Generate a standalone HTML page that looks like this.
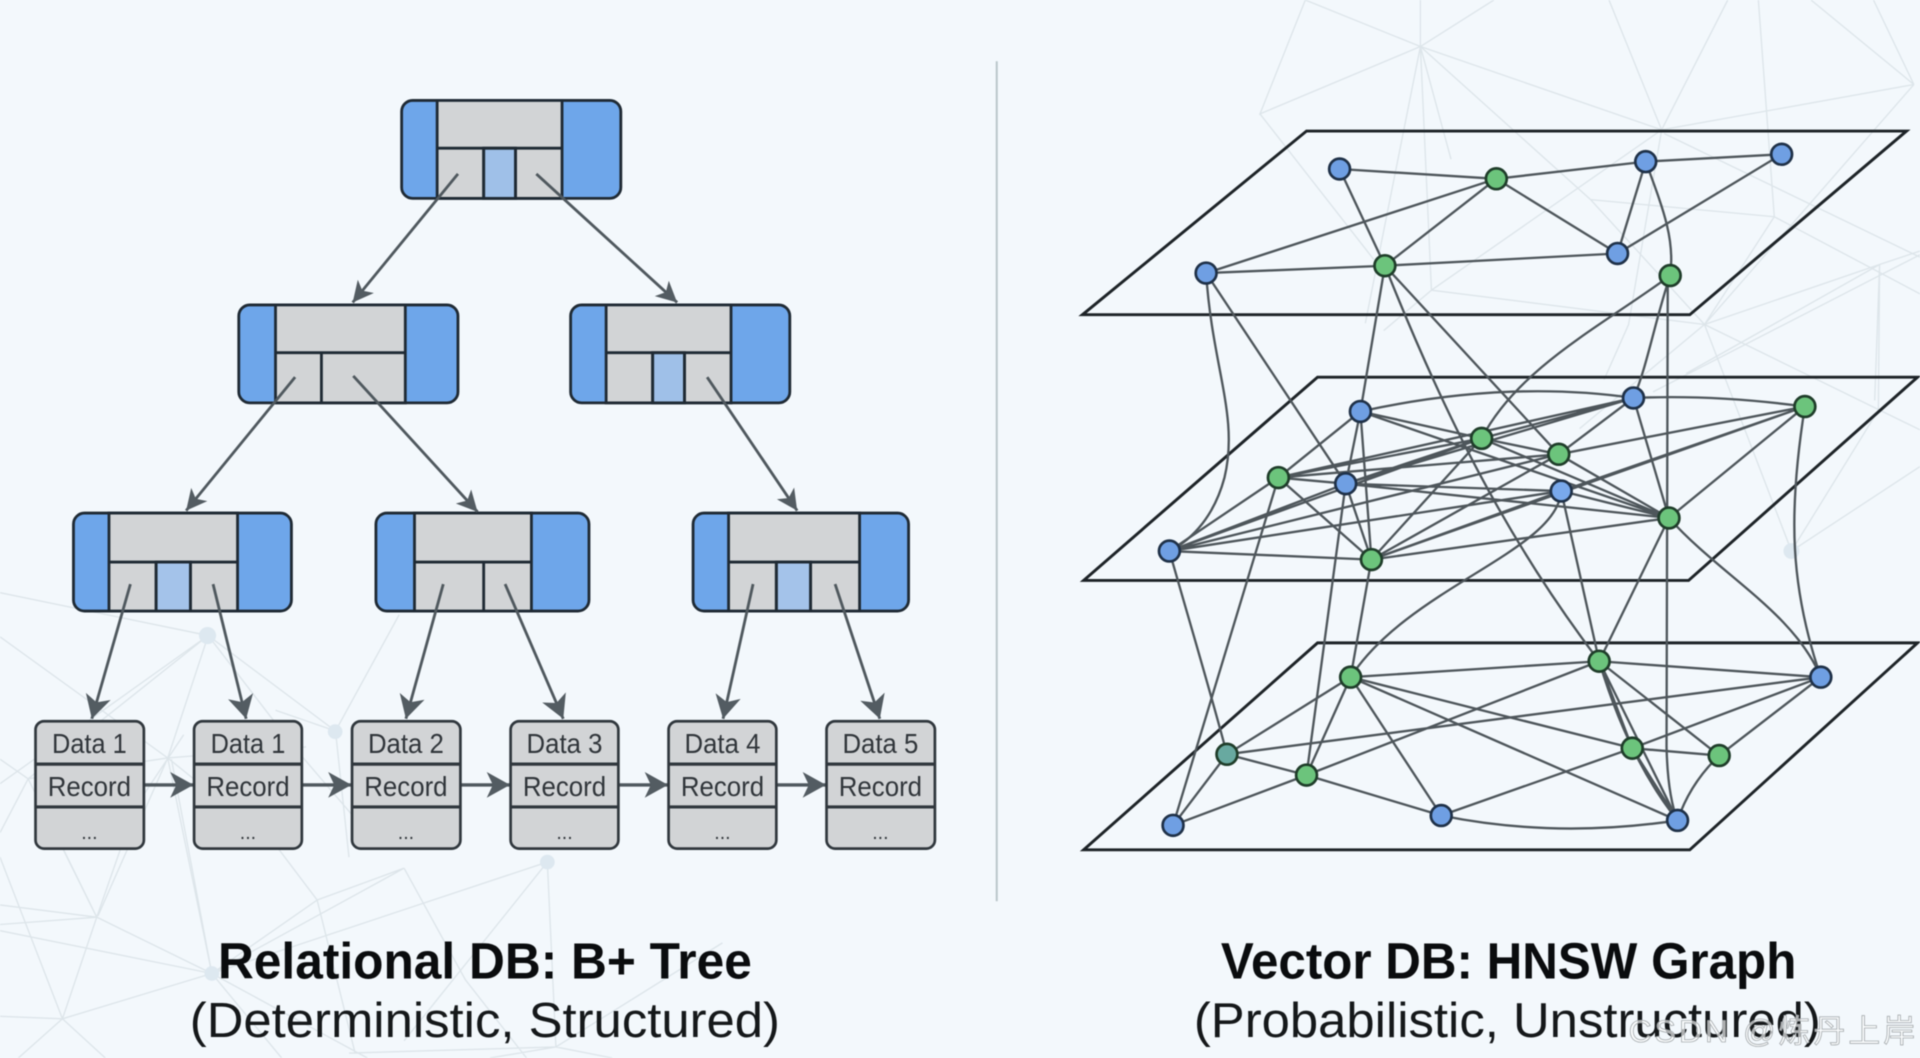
<!DOCTYPE html>
<html><head><meta charset="utf-8"><title>B+ Tree vs HNSW Graph</title>
<style>html,body{margin:0;padding:0;background:#f3f8fc}svg{display:block;filter:blur(.55px)}text{font-family:"Liberation Sans","Noto Sans CJK SC",sans-serif}</style>
</head><body>
<svg width="1920" height="1058" viewBox="0 0 1568 864" xmlns="http://www.w3.org/2000/svg">
<defs>
<marker id="h1" markerUnits="userSpaceOnUse" markerWidth="18" markerHeight="18" refX="17" refY="9" orient="auto"><path d="M17 9L0 0.5L4.5 9L0 17.5Z" fill="#535c62"/></marker>
<marker id="h2" markerUnits="userSpaceOnUse" markerWidth="20" markerHeight="22" refX="19" refY="11" orient="auto"><path d="M19 11L0 0.5L5 11L0 21.5Z" fill="#535c62"/></marker>
</defs>
<rect width="1568" height="864" fill="#f3f8fc"/>

<!-- background mesh -->
<g fill="none" stroke="#dde5ea" stroke-width="1.1">
<path d="M1066 0L1160 38L1357 106M1160 38L1220 0M1160 38L1029 93L1066 0M1160 38L1160 0M1160 38L1169 237M1160 38L1299 163L1392 265M1029 93L1122 212M1160 38L1115 264M1357 106L1314 0M1357 106L1411 0M1357 106L1563 69M1357 106L1169 237M1563 69L1479 0M1436 0L1449 177L1392 265M1563 69L1530 0M1563 69L1392 265M1359 109L1568 210M1169 237L1392 265M1392 265L1535 216L1568 205M1535 216L1531 327M1535 216L1377 305M1568 208L1350 320M1392 265L1463 450M1392 265L1568 351M1392 265L1290 350M1463 450L1534 335L1535 216M1463 450L1568 381M1299 163L1449 177L1568 240M1357 106L1330 265L1310 310M1169 237L1130 270M1160 38L1185 130"/>
<path d="M0 484L170 519L0 640M170 519L23 636M170 519L137 619L80 748M170 519L274 597L326 502M170 519L240 610L300 680M274 597L225 580M274 597L285 700M23 636L137 619L250 610M23 636L79 749M23 636L0 680M23 636L0 620M0 520L137 619L225 690M137 619L173 795M79 749L0 739M79 749L0 755M79 749L173 795L51 832L79 749M79 749L52 694M79 749L110 660L150 600M173 795L140 620M173 795L330 709L259 735M173 795L447 704M173 795L0 760M173 795L300 864M51 832L15 864M51 832L86 864M51 832L0 830M51 832L0 700M330 709L380 800L430 864M259 735L225 690M259 735L173 795M259 735L290 860M447 704L454 855L285 860M447 704L330 850M454 855L590 770M454 855L500 864M454 855L400 864M173 795L230 864"/>
</g>
<g fill="#dde8f0"><circle cx="169.500" cy="519" r="7"/><circle cx="273.700" cy="597.500" r="6"/><circle cx="447" cy="704" r="6"/><circle cx="173" cy="795" r="6"/><circle cx="1463" cy="450" r="6.500"/></g>

<line x1="814" y1="50" x2="814" y2="736" stroke="#b9c6ca" stroke-width="1.600"/>

<!-- B+ tree nodes -->
<g stroke="#1f2a34" stroke-width="2.300">
<!-- root -->
<rect x="328" y="82" width="179" height="80" rx="9" fill="#6ea6ea"/>
<rect x="357" y="82" width="102" height="80" fill="#d2d4d6"/><rect x="395" y="121" width="26" height="41" fill="#9fc0e8"/>
<path d="M357 121H459M395 121V162M421 121V162" fill="none"/>
<!-- L2 left -->
<rect x="195" y="249" width="179" height="80" rx="9" fill="#6ea6ea"/>
<rect x="225" y="249" width="106" height="80" fill="#d2d4d6"/>
<path d="M225 288H331M262.500 288V329" fill="none"/>
<!-- L2 right -->
<rect x="466" y="249" width="179" height="80" rx="9" fill="#6ea6ea"/>
<rect x="495" y="249" width="102" height="80" fill="#d2d4d6"/><rect x="533" y="288" width="26" height="41" fill="#9fc0e8"/>
<path d="M495 288H597M533 288V329M559 288V329" fill="none"/>
<!-- L3 a -->
<rect x="60" y="419" width="178" height="80" rx="9" fill="#6ea6ea"/>
<rect x="89" y="419" width="105" height="80" fill="#d2d4d6"/><rect x="127.500" y="459" width="28" height="40" fill="#a4c3ea"/>
<path d="M89 459H194M127.500 459V499M155.500 459V499" fill="none"/>
<!-- L3 b -->
<rect x="307" y="419" width="174" height="80" rx="9" fill="#6ea6ea"/>
<rect x="338.500" y="419" width="95.500" height="80" fill="#d2d4d6"/>
<path d="M338.500 459H434M395 459V499" fill="none"/>
<!-- L3 c -->
<rect x="566" y="419" width="176" height="80" rx="9" fill="#6ea6ea"/>
<rect x="595" y="419" width="107" height="80" fill="#d2d4d6"/><rect x="634" y="459" width="28" height="40" fill="#a4c3ea"/>
<path d="M595 459H702M634 459V499M662 459V499" fill="none"/>
</g>

<!-- tree arrows -->
<g stroke="#4f585e" stroke-width="2.300" fill="none">
<line x1="374" y1="142" x2="288" y2="247" marker-end="url(#h1)"/>
<line x1="438" y1="142" x2="553" y2="247" marker-end="url(#h1)"/>
<line x1="241" y1="308" x2="152" y2="417" marker-end="url(#h1)"/>
<line x1="288.500" y1="307" x2="390" y2="418" marker-end="url(#h1)"/>
<line x1="577.500" y1="308" x2="651" y2="417" marker-end="url(#h1)"/>
<line x1="106.500" y1="477" x2="75" y2="587" marker-end="url(#h2)"/>
<line x1="174" y1="477" x2="201" y2="587" marker-end="url(#h2)"/>
<line x1="362" y1="477" x2="331.500" y2="587" marker-end="url(#h2)"/>
<line x1="412.500" y1="477" x2="460" y2="587" marker-end="url(#h2)"/>
<line x1="615" y1="477" x2="590.500" y2="587" marker-end="url(#h2)"/>
<line x1="682" y1="477" x2="718.500" y2="587" marker-end="url(#h2)"/>
<line x1="117.500" y1="641" x2="158" y2="641" stroke-width="2.800" marker-end="url(#h2)"/>
<line x1="246.500" y1="641" x2="287" y2="641" stroke-width="2.800" marker-end="url(#h2)"/>
<line x1="376" y1="641" x2="416.500" y2="641" stroke-width="2.800" marker-end="url(#h2)"/>
<line x1="505" y1="641" x2="545.500" y2="641" stroke-width="2.800" marker-end="url(#h2)"/>
<line x1="634" y1="641" x2="674.500" y2="641" stroke-width="2.800" marker-end="url(#h2)"/>
</g>

<!-- records -->
<g stroke="#30373d" stroke-width="2.200" fill="#d2d4d6">
<rect x="29" y="589" width="88.500" height="104" rx="7"/><path d="M29 624H117.500M29 659H117.500" stroke-width="2.600"/>
<rect x="158.500" y="589" width="88" height="104" rx="7"/><path d="M158.500 624H246.500M158.500 659H246.500" stroke-width="2.600"/>
<rect x="287.500" y="589" width="88.500" height="104" rx="7"/><path d="M287.500 624H376M287.500 659H376" stroke-width="2.600"/>
<rect x="417" y="589" width="88" height="104" rx="7"/><path d="M417 624H505M417 659H505" stroke-width="2.600"/>
<rect x="546" y="589" width="88" height="104" rx="7"/><path d="M546 624H634M546 659H634" stroke-width="2.600"/>
<rect x="675" y="589" width="88.500" height="104" rx="7"/><path d="M675 624H763.500M675 659H763.500" stroke-width="2.600"/>
</g>
<g font-size="23" fill="#30353a" text-anchor="middle">
<text x="73" y="615" textLength="61" lengthAdjust="spacingAndGlyphs">Data 1</text><text x="73" y="650" textLength="68" lengthAdjust="spacingAndGlyphs">Record</text><text x="73" y="685" font-size="16">...</text>
<text x="202.500" y="615" textLength="61" lengthAdjust="spacingAndGlyphs">Data 1</text><text x="202.500" y="650" textLength="68" lengthAdjust="spacingAndGlyphs">Record</text><text x="202.500" y="685" font-size="16">...</text>
<text x="331.500" y="615" textLength="62" lengthAdjust="spacingAndGlyphs">Data 2</text><text x="331.500" y="650" textLength="68" lengthAdjust="spacingAndGlyphs">Record</text><text x="331.500" y="685" font-size="16">...</text>
<text x="461" y="615" textLength="62" lengthAdjust="spacingAndGlyphs">Data 3</text><text x="461" y="650" textLength="68" lengthAdjust="spacingAndGlyphs">Record</text><text x="461" y="685" font-size="16">...</text>
<text x="590" y="615" textLength="62" lengthAdjust="spacingAndGlyphs">Data 4</text><text x="590" y="650" textLength="68" lengthAdjust="spacingAndGlyphs">Record</text><text x="590" y="685" font-size="16">...</text>
<text x="719" y="615" textLength="62" lengthAdjust="spacingAndGlyphs">Data 5</text><text x="719" y="650" textLength="68" lengthAdjust="spacingAndGlyphs">Record</text><text x="719" y="685" font-size="16">...</text>
</g>

<!-- planes -->
<g fill="none" stroke="#1d2327" stroke-width="2.400" stroke-linejoin="miter">
<path d="M1067 107H1557L1380 257H884Z"/>
<path d="M1076 308H1566L1379 474H885Z"/>
<path d="M1076 525H1566L1380 694H885Z"/>
</g>

<!-- edges -->
<g fill="none" stroke="#4e565b" stroke-width="1.900">
<path d="M1094 138L1222 146M1222 146L1344 132M1344 132L1455 126M985 223L1222 146M1222 146L1131 217M1222 146L1321 207M1344 132L1321 207M1455 126L1321 207M985 223L1131 217M1131 217L1321 207M1094 138L1131 217"/>
<path d="M1344 132C1358 170 1368 195 1364 225"/>
<!-- inter-layer -->
<path d="M985 223C990 300 1012 340 1000 390C992 420 975 440 955 450"/>
<path d="M985 223L1099 395M1131 217L1111 336M1131 217L1273 371M1131 217C1180 340 1230 440 1306 540"/>
<path d="M1275 401C1272 450 1150 480 1103 553"/>
<path d="M1364 225C1310 265 1240 300 1210 358"/>
<path d="M1364 225C1352 260 1345 300 1334 325"/>
<path d="M1362 225L1361 610Q1362 650 1370 670"/>
<path d="M1044 390L958 674M1099 395L1067 633M1120 457L1103 553M1275 401L1306 540M1363 423L1306 540"/>
<path d="M955 450C975 520 990 570 1002 616"/>
<path d="M1363 423C1405 470 1465 500 1487 553"/>
<path d="M1474 332C1460 420 1462 480 1487 553"/>
<!-- mid plane -->
<path d="M1111 336Q1230 310 1334 325M1334 325Q1400 322 1474 332"/>
<path d="M1111 336L1210 358M1111 336L1363 423M1111 336L1044 390M1111 336L1099 395M1111 336L1120 457M1210 358L1273 371M1210 358L1363 423M1210 358L1044 390M1210 358L1099 395M1210 358L955 450M1210 358L1120 457M1334 325L1210 358M1334 325L1273 371M1334 325L1044 390M1334 325L1099 395M1334 325L1363 423M1474 332L1273 371M1474 332L1275 401M1474 332L1363 423M1474 332L1120 457M1273 371L1363 423M1273 371L1044 390M1273 371L955 450M1273 371L1120 457M1275 401L1099 395M1275 401L1363 423M1275 401L955 450M1275 401L1120 457M1044 390L1099 395M1044 390L955 450M1044 390L1120 457M1099 395L1363 423M1099 395L955 450M1099 395L1120 457M1363 423L1120 457M955 450L1120 457"/>
<!-- bottom plane -->
<path d="M1103 553L1306 540M1306 540L1487 553M1103 553L1002 616M1103 553L1067 633M1103 553L1333 611M1103 553L1370 670M1103 553L1177 666M1002 616L1487 553M1002 616L1067 633M1002 616L958 674M1067 633L958 674M1067 633L1177 666M1067 633L1306 540M1306 540L1333 611M1306 540L1404 617M1306 540L1370 670M1333 611L1404 617M1333 611L1487 553M1333 611L1177 666M1333 611L1370 670M1404 617L1487 553M1404 617Q1380 640 1370 670"/>
<path d="M1177 666Q1270 685 1370 670"/>
<path d="M1306 540Q1330 620 1370 670"/>
</g>

<!-- graph nodes -->
<g stroke="#1f3148" stroke-width="2.200" fill="#6f9fe3">
<circle cx="1094" cy="138" r="8.500"/><circle cx="1344" cy="132" r="8.500"/><circle cx="1455" cy="126" r="8.500"/><circle cx="985" cy="223" r="8.500"/><circle cx="1321" cy="207" r="8.500"/>
<circle cx="1111" cy="336" r="8.500"/><circle cx="1334" cy="325" r="8.500"/><circle cx="1099" cy="395" r="8.500"/><circle cx="1275" cy="401" r="8.500" fill="#79a9ec"/><circle cx="955" cy="450" r="8.500"/>
<circle cx="1487" cy="553" r="8.500"/><circle cx="958" cy="674" r="8.500"/><circle cx="1177" cy="666" r="8.500"/><circle cx="1370" cy="670" r="8.500"/>
</g>
<g stroke="#1f3d2a" stroke-width="2.200" fill="#6cc47c">
<circle cx="1222" cy="146" r="8.500"/><circle cx="1131" cy="217" r="8.500"/><circle cx="1364" cy="225" r="8.500"/>
<circle cx="1474" cy="332" r="8.500"/><circle cx="1210" cy="358" r="8.500"/><circle cx="1273" cy="371" r="8.500"/><circle cx="1044" cy="390" r="8.500"/><circle cx="1363" cy="423" r="8.500"/><circle cx="1120" cy="457" r="8.500"/>
<circle cx="1103" cy="553" r="8.500"/><circle cx="1306" cy="540" r="8.500"/><circle cx="1002" cy="616" r="8.500" fill="#68a9a0"/><circle cx="1067" cy="633" r="8.500"/><circle cx="1333" cy="611" r="8.500"/><circle cx="1404" cy="617" r="8.500"/>
</g>

<!-- titles -->
<g text-anchor="middle" fill="#0a0c0e">
<text x="396" y="799" font-size="42" font-weight="700" textLength="436" lengthAdjust="spacingAndGlyphs">Relational DB: B+ Tree</text>
<text x="396" y="847" font-size="40" textLength="482" lengthAdjust="spacingAndGlyphs" fill="#15181a">(Deterministic, Structured)</text>
<text x="1232" y="799" font-size="42" font-weight="700" textLength="470" lengthAdjust="spacingAndGlyphs">Vector DB: HNSW Graph</text>
<text x="1231" y="847" font-size="40" textLength="512" lengthAdjust="spacingAndGlyphs" fill="#15181a">(Probabilistic, Unstructured)</text>
</g>
<text x="1330" y="851" font-size="26" textLength="234" lengthAdjust="spacing" fill="#ffffff" fill-opacity=".65" stroke="#a8adb0" stroke-width=".7">CSDN @炼丹上岸</text>
</svg>
</body></html>
